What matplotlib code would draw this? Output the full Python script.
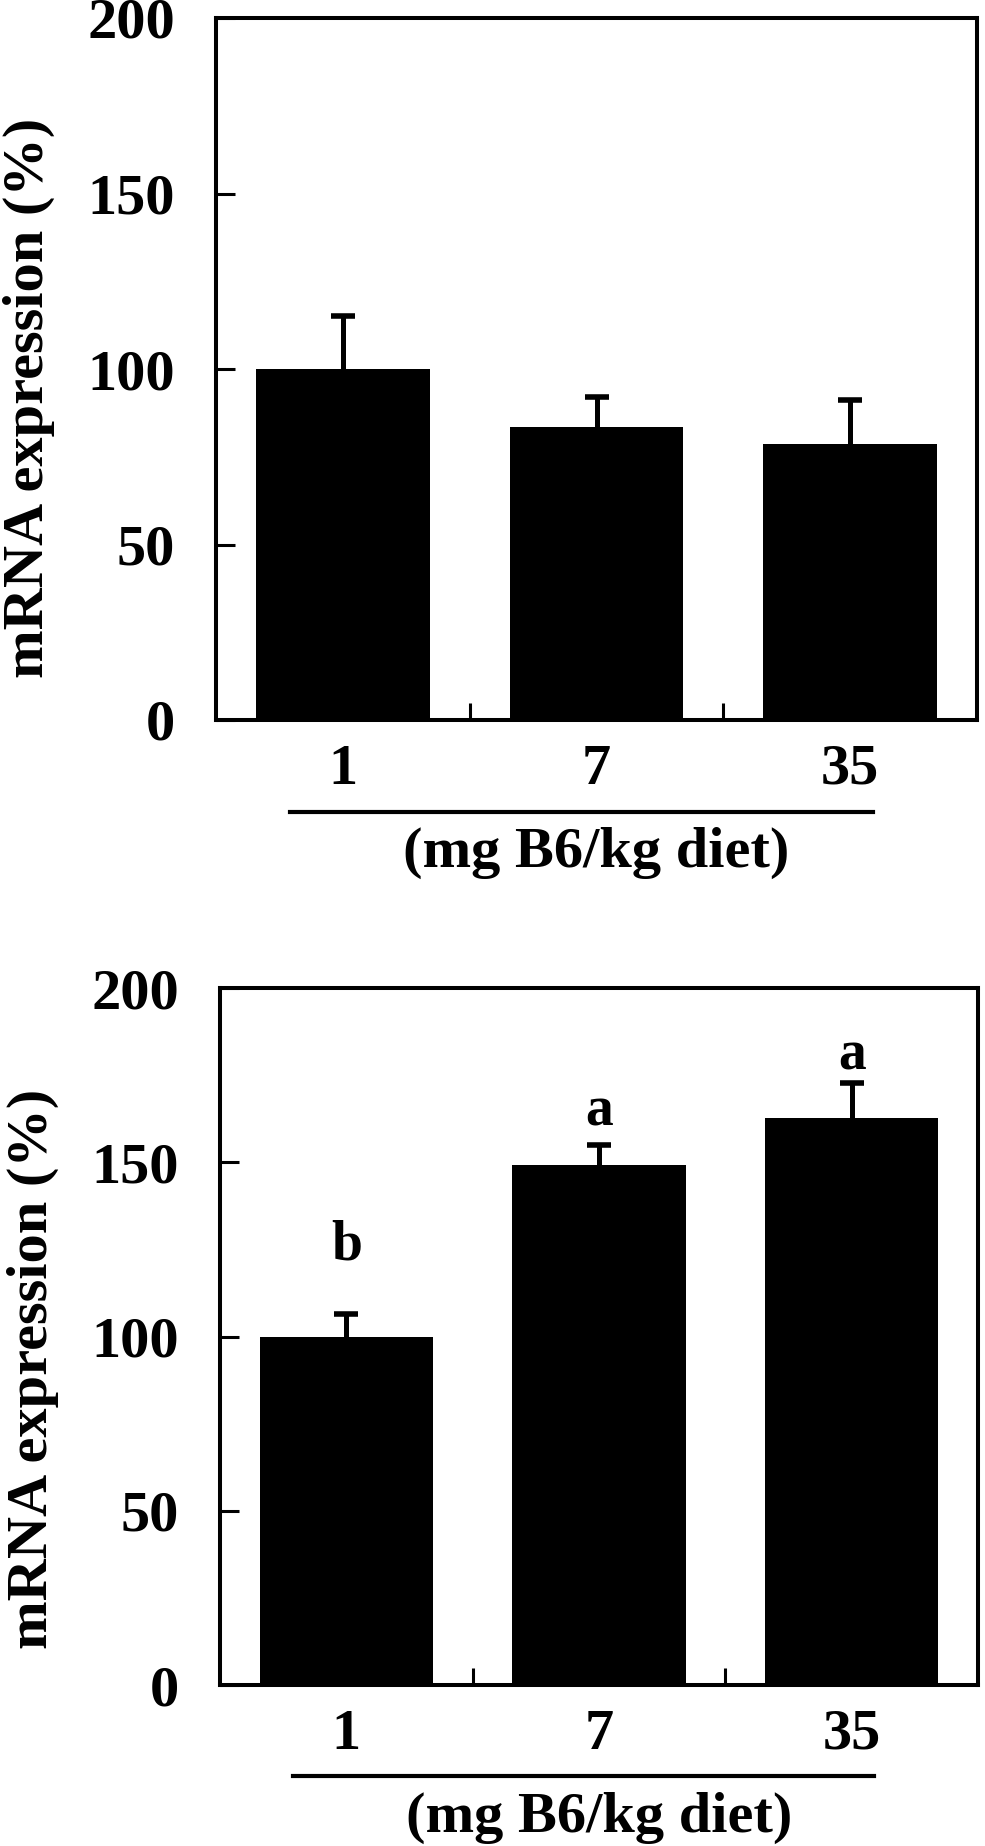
import numpy as np
import matplotlib
matplotlib.use("Agg")
import matplotlib.pyplot as plt

plt.rcParams["font.family"] = ["Liberation Serif", "DejaVu Serif"]
plt.rcParams["font.weight"] = "bold"

DOSES = ["1", "7", "35"]
XLABEL = "(mg B6/kg diet)"
YLABEL = "mRNA expression (%)"
YTICKS = [0, 50, 100, 150, 200]

TOP_MEAN = [100, 83.5, 78.5]
TOP_ERR = [15, 8.5, 12.7]

BOT_MEAN = [100, 149.3, 162.8]
BOT_ERR = [6.5, 5.6, 10.0]
BOT_LETTERS = ["b", "a", "a"]
BOT_LETTER_Y = [122, 160.5, 176.5]

FS = 42
W, H = 985, 1846


def draw_panel(ax, means, errs, letters=None, letter_y=None, ylab_xy=(-0.246, 0.459)):
    x = np.arange(len(DOSES))
    ax.bar(x, means, width=0.685, color="black", zorder=2)
    eb = ax.errorbar(x, means, yerr=[np.zeros(len(errs)), errs], fmt="none",
                     ecolor="black", elinewidth=3.6, capsize=8.3, capthick=4, zorder=3)
    # only the upper cap is shown
    eb[1][0].set_visible(False)

    if letters:
        for xi, lt, ly in zip(x, letters, letter_y):
            ax.text(xi, ly, lt, ha="center", va="baseline", fontsize=40, fontweight="bold")

    ax.set_xlim(-0.5, 2.5)
    ax.set_ylim(0, 200)
    ax.set_yticks(YTICKS)
    ax.set_yticklabels([str(t) for t in YTICKS])
    ax.set_xticks(x)
    ax.set_xticklabels(DOSES)
    ax.set_xticks([0.5, 1.5], minor=True)

    ax.tick_params(axis="y", direction="in", length=13.5, width=2.2, pad=29.5,
                   labelsize=FS, right=False)
    ax.tick_params(axis="x", which="major", length=0, pad=17, labelsize=FS)
    ax.tick_params(axis="x", which="minor", direction="in", length=12.5, width=2.2)
    for lab in ax.get_xticklabels() + ax.get_yticklabels():
        lab.set_fontweight("bold")
    for sp in ax.spines.values():
        sp.set_linewidth(2.9)

    # bracket line under the dose labels
    ax.plot([-0.21, 2.09], [-0.131, -0.131], color="black", linewidth=3,
            transform=ax.get_xaxis_transform(), clip_on=False)
    ax.text(0.5, -0.19, XLABEL, transform=ax.transAxes, ha="center", va="center",
            fontsize=FS, fontweight="bold")
    ax.text(ylab_xy[0], ylab_xy[1], YLABEL, transform=ax.transAxes, rotation=90,
            ha="center", va="center", fontsize=FS, fontweight="bold")


fig = plt.figure(figsize=(W / 100, H / 100), dpi=100)
ax1 = fig.add_axes([216 / W, 1 - 720 / H, 761 / W, 702 / H])
ax2 = fig.add_axes([220 / W, 1 - 1685 / H, 758 / W, 697 / H])

draw_panel(ax1, TOP_MEAN, TOP_ERR, ylab_xy=(-0.246, 0.459))
draw_panel(ax2, BOT_MEAN, BOT_ERR, BOT_LETTERS, BOT_LETTER_Y, ylab_xy=(-0.247, 0.453))

fig.savefig("out.png", dpi=100, facecolor="white")
